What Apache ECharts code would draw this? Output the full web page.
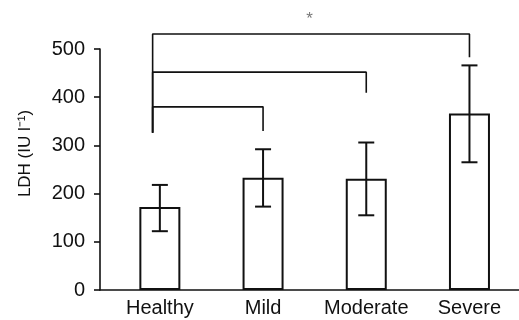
<!DOCTYPE html>
<html>
<head>
<meta charset="utf-8">
<script src="https://cdn.jsdelivr.net/npm/echarts@6/dist/echarts.min.js"></script>
<style>html,body{margin:0;padding:0;background:#fff;}#c{width:519px;height:320px;}</style>
</head>
<body>
<div id="c"></div>
<script>
var categories = ['Healthy', 'Mild', 'Moderate', 'Severe'];
var means = [172, 233, 231, 366];
var errLow = [122, 173, 155, 265];
var errHigh = [218, 292, 306, 466];
var yTicks = [0, 100, 200, 300, 400, 500];
// significance brackets: all start from Healthy (index 0)
var bracketTarget = [3, 2, 1];
var bracketTop = [531, 452, 380];
var bracketEnd = [483, 409, 330];
var bracketStart = 326;
var bracketLeftX = -0.07;
var starPos = [1.45, 562];
var starText = '*';

var ink = '#111';
var chart = echarts.init(document.getElementById('c'), null, {renderer: 'canvas'});

var series = [];
series.push({
  type: 'bar',
  data: means.map(function (v, i) { return [i, v]; }),
  barWidth: 41,
  itemStyle: {color: '#fff', borderColor: ink, borderWidth: 2},
  z: 2
});
series.push({
  type: 'custom',
  data: means.map(function (v, i) { return [i, errLow[i], errHigh[i]]; }),
  renderItem: function (params, api) {
    var lo = api.coord([api.value(0), api.value(1)]);
    var hi = api.coord([api.value(0), api.value(2)]);
    var hw = 8;
    var st = {stroke: ink, lineWidth: 2};
    return {type: 'group', children: [
      {type: 'line', shape: {x1: lo[0], y1: lo[1], x2: hi[0], y2: hi[1]}, style: st},
      {type: 'line', shape: {x1: lo[0] - hw, y1: lo[1], x2: lo[0] + hw, y2: lo[1]}, style: st},
      {type: 'line', shape: {x1: hi[0] - hw, y1: hi[1], x2: hi[0] + hw, y2: hi[1]}, style: st}
    ]};
  },
  z: 3
});
bracketTarget.forEach(function (t, k) {
  series.push({
    type: 'line',
    data: [[bracketLeftX, bracketStart], [bracketLeftX, bracketTop[k]], [t, bracketTop[k]], [t, bracketEnd[k]]],
    symbol: 'none',
    clip: false,
    lineStyle: {color: ink, width: 1.6},
    silent: true,
    z: 4
  });
});
series.push({
  type: 'scatter',
  data: [starPos],
  symbolSize: 1,
  itemStyle: {color: 'rgba(0,0,0,0)'},
  clip: false,
  label: {show: true, position: 'inside', formatter: starText, fontSize: 17, color: '#555', fontFamily: 'Liberation Sans'},
  z: 5
});

chart.setOption({
  animation: false,
  backgroundColor: '#fff',
  grid: {left: 100, right: 0, top: 49, bottom: 30},
  xAxis: {
    type: 'value',
    min: -0.58,
    max: 3.48,
    splitLine: {show: false},
    axisTick: {show: false},
    axisLine: {show: true, onZero: false, lineStyle: {color: ink, width: 1.6}},
    axisLabel: {
      customValues: [0, 1, 2, 3],
      formatter: function (v) { return categories[Math.round(v)]; },
      fontSize: 20, color: ink, fontFamily: 'Liberation Sans', margin: 8
    }
  },
  yAxis: {
    type: 'value',
    min: yTicks[0],
    max: yTicks[yTicks.length - 1],
    interval: 100,
    name: 'LDH (IU l\u207B\u00B9)',
    nameLocation: 'middle',
    nameGap: 66,
    nameRotate: 90,
    nameTextStyle: {fontSize: 17, color: ink, fontFamily: 'Liberation Sans', padding: [0, 0, 0, 32]},
    splitLine: {show: false},
    axisLine: {show: true, onZero: false, lineStyle: {color: ink, width: 1.6}},
    axisTick: {show: true, length: 6, lineStyle: {color: ink, width: 1.6}},
    axisLabel: {fontSize: 20, color: ink, fontFamily: 'Liberation Sans', margin: 15}
  },
  series: series
});
</script>
</body>
</html>
